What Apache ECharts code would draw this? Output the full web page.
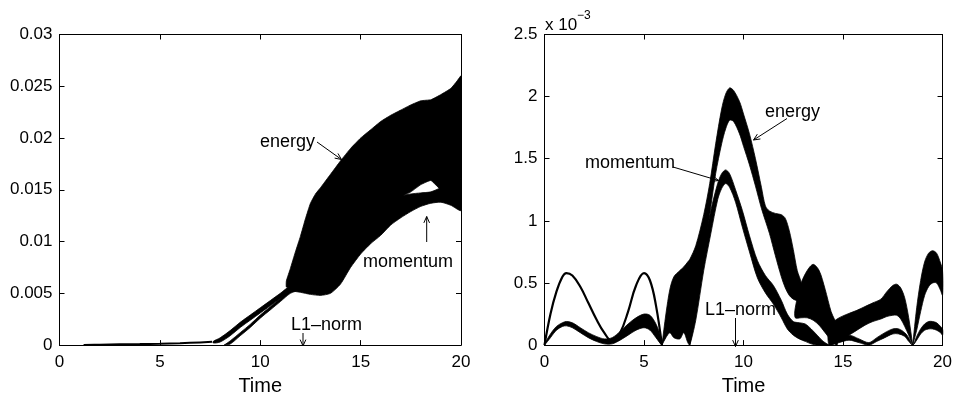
<!DOCTYPE html>
<html><head><meta charset="utf-8">
<script src="https://cdn.jsdelivr.net/npm/echarts@6/dist/echarts.min.js"></script>
<style>html,body{margin:0;padding:0;background:#fff}#c{width:955px;height:401px}</style>
</head><body><div id="c"></div>
<script>
// ---------------- LEFT PANEL (values in absolute units) ----------------
var xTicks = [0, 5, 10, 15, 20];
var leftYTicks = [0, 0.005, 0.01, 0.015, 0.02, 0.025, 0.03];
var rightYTicks = [0, 0.5, 1, 1.5, 2, 2.5];   // x 10^-3

// L1-norm (left), nearly zero
var lL1T = [1.2, 2, 3, 4, 5, 6, 7, 7.6];
var lL1V = [0, 0.00004, 0.00008, 0.0001, 0.00013, 0.00018, 0.00026, 0.00032];

// energy, early thin band
var lEnEarlyT  = [7.66, 8, 8.5, 9, 9.5, 10, 10.5, 11, 11.5];
var lEnEarlyHi = [0.00036, 0.0007, 0.0014, 0.0022, 0.0029, 0.0036, 0.0043, 0.005, 0.0057];
var lEnEarlyLo = [0.0002, 0.0003, 0.0009, 0.0017, 0.0024, 0.0031, 0.0038, 0.0045, 0.0052];

// momentum, early thin band
var lMoEarlyT  = [8.2, 8.5, 9, 9.5, 10, 10.5, 11, 11.5, 12];
var lMoEarlyHi = [0.0, 0.0004, 0.0012, 0.002, 0.0029, 0.0037, 0.0045, 0.0053, 0.0058];
var lMoEarlyLo = [0.0, 0.0001, 0.0009, 0.0017, 0.0026, 0.0034, 0.0042, 0.0050, 0.0054];

// energy, oscillating envelope
var lEnT  = [11.3, 11.5, 11.75, 12, 12.25, 12.5, 12.75, 13, 13.5, 14, 14.5, 15, 15.5, 16, 16.5, 17, 17.5, 18, 18.5, 19, 19.5, 19.8, 20];
var lEnHi = [0.0062, 0.0074, 0.009, 0.0105, 0.0122, 0.0137, 0.0146, 0.0152, 0.0165, 0.0178, 0.019, 0.02, 0.0208, 0.0216, 0.0222, 0.0227, 0.0232, 0.0236, 0.0237, 0.0242, 0.0248, 0.0255, 0.026];
var lEnLo = [0.0056, 0.0056, 0.0056, 0.0056, 0.0058, 0.006, 0.0065, 0.007, 0.008, 0.009, 0.01, 0.011, 0.012, 0.013, 0.0138, 0.0143, 0.0148, 0.0155, 0.0159, 0.0150, 0.0150, 0.0150, 0.0150];

// momentum, oscillating envelope
var lMoT  = [11.5, 12, 12.5, 13, 13.5, 14, 14.5, 15, 15.5, 16, 16.5, 17, 17.5, 18, 18.5, 19, 19.5, 20];
var lMoHi = [0.0058, 0.0065, 0.0072, 0.008, 0.009, 0.01, 0.011, 0.0118, 0.0126, 0.0134, 0.014, 0.0144, 0.0146, 0.0147, 0.0148, 0.0152, 0.0155, 0.016];
var lMoLo = [0.0053, 0.0051, 0.0049, 0.0048, 0.0050, 0.0059, 0.0075, 0.0088, 0.0098, 0.0106, 0.0116, 0.0123, 0.0129, 0.0134, 0.0137, 0.0138, 0.0135, 0.0130];

// ---------------- RIGHT PANEL (values in units of 10^-3) ----------------
var rL1T = [0, 0.3, 0.6, 0.9, 1.1, 1.4, 1.8, 2.2, 2.6, 3.0, 3.4, 3.8, 4.2, 4.6, 5.0, 5.3, 5.6, 5.9];
var rL1V = [0, 0.25, 0.43, 0.55, 0.58, 0.56, 0.47, 0.34, 0.21, 0.1, 0.03, 0.1, 0.27, 0.48, 0.58, 0.52, 0.32, 0];

var rSmT  = [0, 0.3, 0.6, 0.9, 1.1, 1.4, 1.8, 2.2, 2.6, 3.0, 3.4, 3.8, 4.2, 4.6, 5.0, 5.3, 5.6, 5.9];
var rSmHi = [0.01, 0.09, 0.15, 0.18, 0.19, 0.18, 0.14, 0.1, 0.07, 0.05, 0.06, 0.11, 0.17, 0.22, 0.25, 0.24, 0.17, 0.04];
var rSmLo = [0, 0.06, 0.12, 0.15, 0.155, 0.14, 0.1, 0.06, 0.03, 0.01, 0.01, 0.04, 0.08, 0.12, 0.14, 0.12, 0.06, 0];

var rEnT  = [5.9, 6.1, 6.3, 6.5, 6.8, 7.0, 7.2, 7.3, 7.6, 8.0, 8.3, 8.6, 8.9, 9.1, 9.3, 9.5, 9.8, 10.0, 10.3, 10.6, 10.9, 11.1, 11.3, 11.6, 11.9, 12.1, 12.3, 12.5, 12.7, 12.9];
var rEnHi = [0.0, 0.25, 0.45, 0.55, 0.6, 0.63, 0.67, 0.69, 0.8, 1.05, 1.3, 1.62, 1.9, 2.02, 2.07, 2.05, 1.96, 1.86, 1.7, 1.5, 1.27, 1.12, 1.08, 1.06, 1.05, 1.02, 0.92, 0.77, 0.6, 0.5];
var rEnLo = [0.0, 0.06, 0.1, 0.06, 0.05, 0.1, 0.02, 0.0, 0.3, 0.72, 1.05, 1.38, 1.62, 1.74, 1.81, 1.8, 1.7, 1.6, 1.45, 1.28, 1.1, 1.0, 0.9, 0.72, 0.55, 0.46, 0.4, 0.37, 0.36, 0.38];

var rMoT  = [7.3, 7.6, 8.0, 8.36, 8.7, 8.9, 9.1, 9.3, 9.6, 9.94, 10.3, 10.7, 11.1, 11.5, 11.9, 12.2, 12.5, 12.8, 13.1, 13.4, 13.7, 14.0, 14.3];
var rMoHi = [0.05, 0.35, 0.78, 1.085, 1.3, 1.38, 1.41, 1.38, 1.25, 1.085, 0.88, 0.68, 0.56, 0.48, 0.36, 0.25, 0.19, 0.18, 0.17, 0.13, 0.08, 0.03, 0.0];
var rMoLo = [0.0, 0.2, 0.6, 0.9, 1.17, 1.26, 1.3, 1.27, 1.15, 0.95, 0.75, 0.54, 0.42, 0.33, 0.22, 0.13, 0.08, 0.05, 0.03, 0.01, 0.0, 0.0, 0.0];

var rHumpT  = [12.6, 12.9, 13.2, 13.5, 13.8, 14.1, 14.4, 14.7];
var rHumpHi = [0.3, 0.5, 0.6, 0.65, 0.6, 0.45, 0.27, 0.15];
var rHumpLo = [0.22, 0.22, 0.22, 0.2, 0.16, 0.1, 0.04, 0.0];

var rTailT  = [14.3, 14.7, 15.0, 15.3, 15.7, 16.1, 16.5, 16.9, 17.2, 17.5, 17.7, 17.9, 18.1, 18.3, 18.5];
var rTailHi = [0.15, 0.21, 0.235, 0.255, 0.28, 0.31, 0.34, 0.37, 0.43, 0.48, 0.49, 0.46, 0.38, 0.22, 0.0];
var rTailLo = [0.0, 0.02, 0.05, 0.08, 0.12, 0.16, 0.19, 0.21, 0.23, 0.24, 0.24, 0.21, 0.15, 0.08, 0.0];

var rEndT  = [18.5, 18.7, 18.9, 19.1, 19.3, 19.5, 19.7, 19.9, 20];
var rEndHi = [0.0, 0.3, 0.52, 0.67, 0.74, 0.76, 0.74, 0.66, 0.6];
var rEndLo = [0.0, 0.12, 0.27, 0.4, 0.47, 0.5, 0.5, 0.44, 0.4];

var rLowT  = [14.3, 14.8, 15.3, 15.8, 16.3, 16.7, 17.1, 17.5, 17.8, 18.1, 18.3, 18.5, 18.7, 18.9, 19.1, 19.3, 19.5, 19.7, 19.9, 20];
var rLowHi = [0.0, 0.05, 0.08, 0.05, 0.02, 0.06, 0.1, 0.13, 0.13, 0.1, 0.06, 0.0, 0.07, 0.13, 0.17, 0.19, 0.19, 0.18, 0.15, 0.13];
var rLowLo = [0.0, 0.02, 0.04, 0.02, 0.0, 0.03, 0.06, 0.09, 0.09, 0.07, 0.03, 0.0, 0.04, 0.09, 0.12, 0.13, 0.13, 0.12, 0.1, 0.08];

// ---------------- helpers ----------------
var FONT = 'Liberation Sans, Arial, Helvetica, sans-serif';

function band(t, lo, hi, gi, sm) {
  return {
    type: 'custom', xAxisIndex: gi * 2, yAxisIndex: gi * 2, clip: true, silent: true,
    data: t.map(function (x, i) { return [x, lo[i], hi[i]]; }),
    renderItem: function (params, api) {
      if (params.dataIndex !== 0) return null;
      var top = [], bot = [];
      for (var i = 0; i < t.length; i++) {
        top.push(api.coord([t[i], hi[i]]));
        bot.push(api.coord([t[i], lo[i]]));
      }
      return { type: 'polygon', shape: { points: top.concat(bot.reverse()), smooth: sm == null ? 0.3 : sm },
               style: { fill: '#000', stroke: '#000', lineWidth: 0.8 } };
    }
  };
}
function line(t, v, gi, w) {
  return { type: 'line', xAxisIndex: gi * 2, yAxisIndex: gi * 2, showSymbol: false, smooth: 0.4,
           silent: true, clip: true, lineStyle: { color: '#000', width: w },
           data: t.map(function (x, i) { return [x, v[i]]; }) };
}
function fmt(v) { return String(+v.toFixed(4)); }

function xAx(gi, bottom) {
  var a = { gridIndex: gi, type: 'value', min: 0, max: 20, interval: 5, position: bottom ? 'bottom' : 'top',
    axisLine: { onZero: false, lineStyle: { color: '#000', width: 1 } },
    axisTick: { inside: true, length: 5, lineStyle: { color: '#000', width: 1 } },
    axisLabel: { show: bottom, color: '#000', fontSize: 17, fontFamily: FONT, margin: 9, formatter: fmt },
    splitLine: { show: false } };
  if (bottom) {
    a.name = 'Time'; a.nameLocation = 'middle'; a.nameGap = 30;
    a.nameTextStyle = { color: '#000', fontSize: 20, fontFamily: FONT };
  }
  return a;
}
function yAx(gi, left, max, interval) {
  return { gridIndex: gi, type: 'value', min: 0, max: max, interval: interval, position: left ? 'left' : 'right',
    axisLine: { onZero: false, lineStyle: { color: '#000', width: 1 } },
    axisTick: { inside: true, length: 5, lineStyle: { color: '#000', width: 1 } },
    axisLabel: { show: left, color: '#000', fontSize: 17, fontFamily: FONT, margin: 7, formatter: fmt },
    splitLine: { show: false } };
}

function txt(x, y, s, size, align) {
  return { type: 'text', x: x, y: y, silent: true,
    style: { text: s, fill: '#000', fontSize: size, fontFamily: FONT, align: align || 'left', verticalAlign: 'middle' } };
}
function arrow(x1, y1, x2, y2) {
  var ang = Math.atan2(y2 - y1, x2 - x1), L = 7, s = 0.42;
  var p1 = [x2 - L * Math.cos(ang - s), y2 - L * Math.sin(ang - s)];
  var p2 = [x2 - L * Math.cos(ang + s), y2 - L * Math.sin(ang + s)];
  return [
    { type: 'line', silent: true, shape: { x1: x1, y1: y1, x2: x2, y2: y2 }, style: { stroke: '#000', lineWidth: 1 } },
    { type: 'polyline', silent: true, shape: { points: [p1, [x2, y2], p2] }, style: { stroke: '#000', lineWidth: 1, fill: null } }
  ];
}

var graphics = [].concat(
  [txt(260, 142, 'energy', 18), txt(363, 262, 'momentum', 18), txt(291, 325, 'L1\u2013norm', 18)],
  arrow(317, 142, 341.5, 159.5), arrow(426.7, 242, 426.7, 216.5), arrow(303, 333, 303, 346),
  [txt(765, 112, 'energy', 18), txt(585, 163, 'momentum', 18), txt(705, 310, 'L1\u2013norm', 18)],
  arrow(787, 118.5, 753.5, 140), arrow(673, 167, 718.5, 180.5), arrow(735.5, 318, 735.5, 346.5),
  [txt(545, 25, 'x 10', 17), txt(577, 16, '\u22123', 12)]
);

var chart = echarts.init(document.getElementById('c'), null, { renderer: 'canvas' });
chart.setOption({
  animation: false,
  backgroundColor: '#fff',
  grid: [
    { left: 59.5, right: 494, top: 34.5, bottom: 50.5 },
    { left: 544.5, right: 10, top: 34.5, bottom: 50.5 }
  ],
  xAxis: [xAx(0, true), xAx(0, false), xAx(1, true), xAx(1, false)],
  yAxis: [yAx(0, true, 0.03, 0.005), yAx(0, false, 0.03, 0.005), yAx(1, true, 2.5, 0.5), yAx(1, false, 2.5, 0.5)],
  series: [
    line(lL1T, lL1V, 0, 2),
    band(lEnEarlyT, lEnEarlyLo, lEnEarlyHi, 0),
    band(lMoEarlyT, lMoEarlyLo, lMoEarlyHi, 0),
    band(lEnT, lEnLo, lEnHi, 0, 0.12),
    band(lMoT, lMoLo, lMoHi, 0, 0.2),
    line(rL1T, rL1V, 1, 2.2),
    band(rSmT, rSmLo, rSmHi, 1),
    band(rEnT, rEnLo, rEnHi, 1),
    band(rMoT, rMoLo, rMoHi, 1),
    band(rHumpT, rHumpLo, rHumpHi, 1),
    band(rTailT, rTailLo, rTailHi, 1),
    band(rEndT, rEndLo, rEndHi, 1),
    band(rLowT, rLowLo, rLowHi, 1)
  ],
  graphic: graphics
});
</script></body></html>
